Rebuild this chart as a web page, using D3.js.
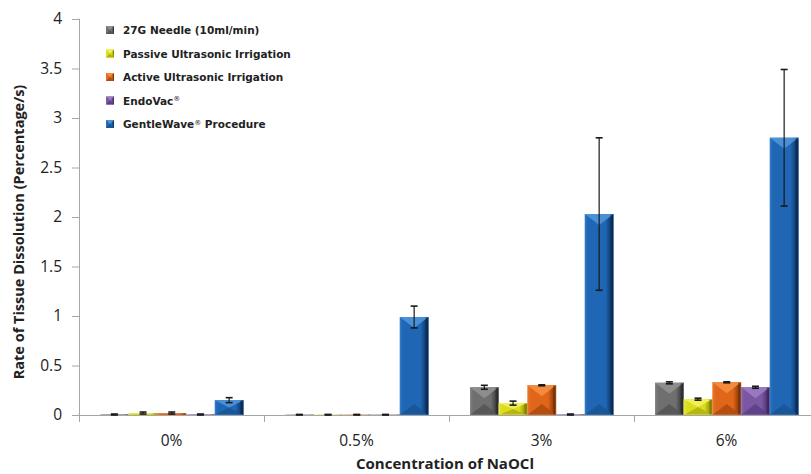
<!DOCTYPE html>
<html>
<head>
<meta charset="utf-8">
<script src="https://cdn.jsdelivr.net/npm/d3@7"></script>
<style>
  html, body { margin: 0; padding: 0; background: #fff; }
  svg { display: block; }
</style>
</head>
<body>
<svg id="chart" width="811" height="474"></svg>
<script>
// ---- data ----
const categories = ["0%", "0.5%", "3%", "6%"];
const seriesNames = ["27G Needle (10ml/min)", "Passive Ultrasonic Irrigation", "Active Ultrasonic Irrigation", "EndoVac\u00AE", "GentleWave\u00AE Procedure"];
const needle     = [0.005, 0.003, 0.28, 0.325];
const passive    = [0.02, 0.003, 0.12, 0.16];
const active     = [0.02, 0.003, 0.30, 0.33];
const endovac    = [0.005, 0.003, 0.005, 0.28];
const gentlewave = [0.15, 0.99, 2.03, 2.80];
const needleErr     = [0.005, 0.003, 0.02, 0.01];
const passiveErr    = [0.01, 0.003, 0.02, 0.01];
const activeErr     = [0.01, 0.003, 0.005, 0.005];
const endovacErr    = [0.005, 0.003, 0.005, 0.01];
const gentlewaveErr = [0.025, 0.11, 0.77, 0.69];
const yTicks = [0, 0.5, 1, 1.5, 2, 2.5, 3, 3.5, 4];

const seriesValues = [needle, passive, active, endovac, gentlewave];
const seriesErrors = [needleErr, passiveErr, activeErr, endovacErr, gentlewaveErr];

// palette: base, top, bottom, right-edge, left
const palette = [
  {base:"#6f6f6f", top:"#8e8e8e", bottom:"#555555", edge:"#2a2a2a", left:"#808080"},
  {base:"#dcdc1e", top:"#f0f05a", bottom:"#b3b312", edge:"#7c7c00", left:"#e6e640"},
  {base:"#e0661a", top:"#f38c3e", bottom:"#b04c10", edge:"#6e2d05", left:"#e87a30"},
  {base:"#7957a3", top:"#9a7bc2", bottom:"#5c4086", edge:"#3a2659", left:"#8666b0"},
  {base:"#1f66b4", top:"#4d92d8", bottom:"#185596", edge:"#0a2850", left:"#2c74c2"}
];

const svg = d3.select("#chart");
const defs = svg.append("defs");
palette.forEach((p, i) => {
  const g = defs.append("linearGradient").attr("id", "grad" + i)
    .attr("x1", "0%").attr("x2", "100%").attr("y1", "0%").attr("y2", "0%");
  g.append("stop").attr("offset", "0%").attr("stop-color", p.left);
  g.append("stop").attr("offset", "12%").attr("stop-color", p.base);
  g.append("stop").attr("offset", "72%").attr("stop-color", p.base);
  g.append("stop").attr("offset", "100%").attr("stop-color", p.edge);
});

const plotLeft = 79, plotRight = 819, plotTop = 19, plotBottom = 415;

const y = d3.scaleLinear().domain([0, 4]).range([plotBottom, plotTop]);
const x0 = d3.scaleBand().domain(categories).range([plotLeft, plotRight]).padding(0);
const x1 = d3.scaleBand().domain(seriesNames).range([21, x0.bandwidth() - 20.5]).padding(0);

const axisColor = "#a6a6a6";

// Y axis
const yAxis = svg.append("g").attr("transform", `translate(${plotLeft},0)`)
  .call(d3.axisLeft(y).tickValues(yTicks).tickSize(7).tickPadding(10).tickFormat(d3.format("")));
yAxis.select(".domain").attr("stroke", axisColor).attr("d", `M-0.5,${plotTop}H0.5V${plotBottom}H-0.5`);
yAxis.selectAll(".tick line").attr("stroke", axisColor);
yAxis.selectAll(".tick text").attr("fill", "#222").style("font-family", "'Open Sans', sans-serif").style("font-size", "15.5px");

// X axis
const xAxisG = svg.append("g").attr("transform", `translate(0,${plotBottom})`);
xAxisG.append("line").attr("x1", plotLeft).attr("x2", plotRight).attr("y1", 0.5).attr("y2", 0.5).attr("stroke", axisColor);
xAxisG.selectAll("line.tk").data(categories).enter().append("line").attr("class", "tk")
  .attr("x1", d => x0(d) + 0.5).attr("x2", d => x0(d) + 0.5).attr("y1", 0).attr("y2", 7).attr("stroke", axisColor);
xAxisG.selectAll("text").data(categories).enter().append("text")
  .attr("x", d => x0(d) + x0.bandwidth() / 2).attr("y", 31)
  .attr("text-anchor", "middle").attr("fill", "#222")
  .style("font-family", "'Open Sans', sans-serif").style("font-size", "15.5px").text(d => d);

// bevelled bar
function bevelBar(g, bx, by, bw, bh, si) {
  const p = palette[si];
  g.append("rect").attr("x", bx).attr("y", by).attr("width", bw).attr("height", bh)
    .attr("fill", `url(#grad${si})`);
  const bt = Math.min(11, bh / 2);
  g.append("polygon").attr("points", [[bx, by], [bx + bw, by], [bx + bw / 2, by + bt]].map(q => q.join(",")).join(" "))
    .attr("fill", p.top).attr("opacity", 0.95);
  g.append("polygon").attr("points", [[bx, by + bh], [bx + bw, by + bh], [bx + bw / 2, by + bh - bt]].map(q => q.join(",")).join(" "))
    .attr("fill", p.bottom).attr("opacity", 0.9);
  g.append("rect").attr("x", bx + bw - 3).attr("y", by).attr("width", 3).attr("height", bh)
    .attr("fill", p.edge).attr("opacity", 0.6);
  g.append("rect").attr("x", bx + 0.25).attr("y", by + 0.25).attr("width", Math.max(0, bw - 0.5)).attr("height", Math.max(0, bh - 0.5))
    .attr("fill", "none").attr("stroke", p.top).attr("stroke-width", 0.5).attr("opacity", 0.7);
}

const barsG = svg.append("g");
categories.forEach((cat, ci) => {
  seriesNames.forEach((sn, si) => {
    const v = seriesValues[si][ci];
    const bx = x0(cat) + x1(sn);
    const bw = x1.bandwidth();
    const by = y(v);
    const bh = y(0) - y(v);
    bevelBar(barsG, bx, by, bw, bh, si);
  });
});

// error bars
const errG = svg.append("g").attr("stroke", "#1a1a1a").attr("stroke-width", 1.2);
categories.forEach((cat, ci) => {
  seriesNames.forEach((sn, si) => {
    const v = seriesValues[si][ci], e = seriesErrors[si][ci];
    const cx = x0(cat) + x1(sn) + x1.bandwidth() / 2;
    const yt = y(v + e), yb = y(Math.max(0, v - e));
    errG.append("line").attr("x1", cx).attr("x2", cx).attr("y1", yt).attr("y2", yb);
    errG.append("line").attr("x1", cx - 3.5).attr("x2", cx + 3.5).attr("y1", yt).attr("y2", yt).attr("stroke-width", 1.6);
    errG.append("line").attr("x1", cx - 3.5).attr("x2", cx + 3.5).attr("y1", yb).attr("y2", yb).attr("stroke-width", 1.6);
  });
});

// legend
function bevelLegend(g, bx, by, bw, bh, si) {
  const p = palette[si];
  g.append("rect").attr("x", bx).attr("y", by).attr("width", bw).attr("height", bh).attr("fill", `url(#grad${si})`);
  g.append("polygon").attr("points", `${bx},${by} ${bx + bw},${by} ${bx + bw / 2},${by + bh / 2}`).attr("fill", p.top);
  g.append("polygon").attr("points", `${bx},${by + bh} ${bx + bw},${by + bh} ${bx + bw / 2},${by + bh / 2}`).attr("fill", p.bottom);
}
const legend = svg.append("g");
seriesNames.forEach((sn, si) => {
  const ly = 30 + si * 23.5;
  bevelLegend(legend, 106, ly - 4, 8, 8, si);
  const t = legend.append("text").attr("x", 123).attr("y", ly + 4)
    .attr("fill", "#222")
    .style("font-family", "'DejaVu Sans', sans-serif").style("font-weight", "bold").style("font-size", "10.5px");
  const parts = sn.split("\u00AE");
  parts.forEach((part, pi) => {
    if (pi > 0) {
      t.append("tspan").attr("dy", -3.5).style("font-size", "7px").style("font-weight", "normal").text("\u00AE");
      t.append("tspan").attr("dy", 3.5).text(part);
    } else {
      t.append("tspan").text(part);
    }
  });
});

// axis titles
svg.append("text")
  .attr("transform", `translate(24,${(plotTop + plotBottom) / 2 + 15}) rotate(-90)`)
  .attr("text-anchor", "middle").attr("fill", "#222")
  .style("font-family", "'Open Sans', sans-serif").style("font-weight", "bold").style("font-size", "14.5px")
  .text("Rate of Tissue Dissolution (Percentage/s)");

svg.append("text")
  .attr("x", 445).attr("y", 469)
  .attr("text-anchor", "middle").attr("fill", "#222")
  .style("font-family", "'Open Sans', sans-serif").style("font-weight", "bold").style("font-size", "15px")
  .text("Concentration of NaOCl");
</script>
</body>
</html>
